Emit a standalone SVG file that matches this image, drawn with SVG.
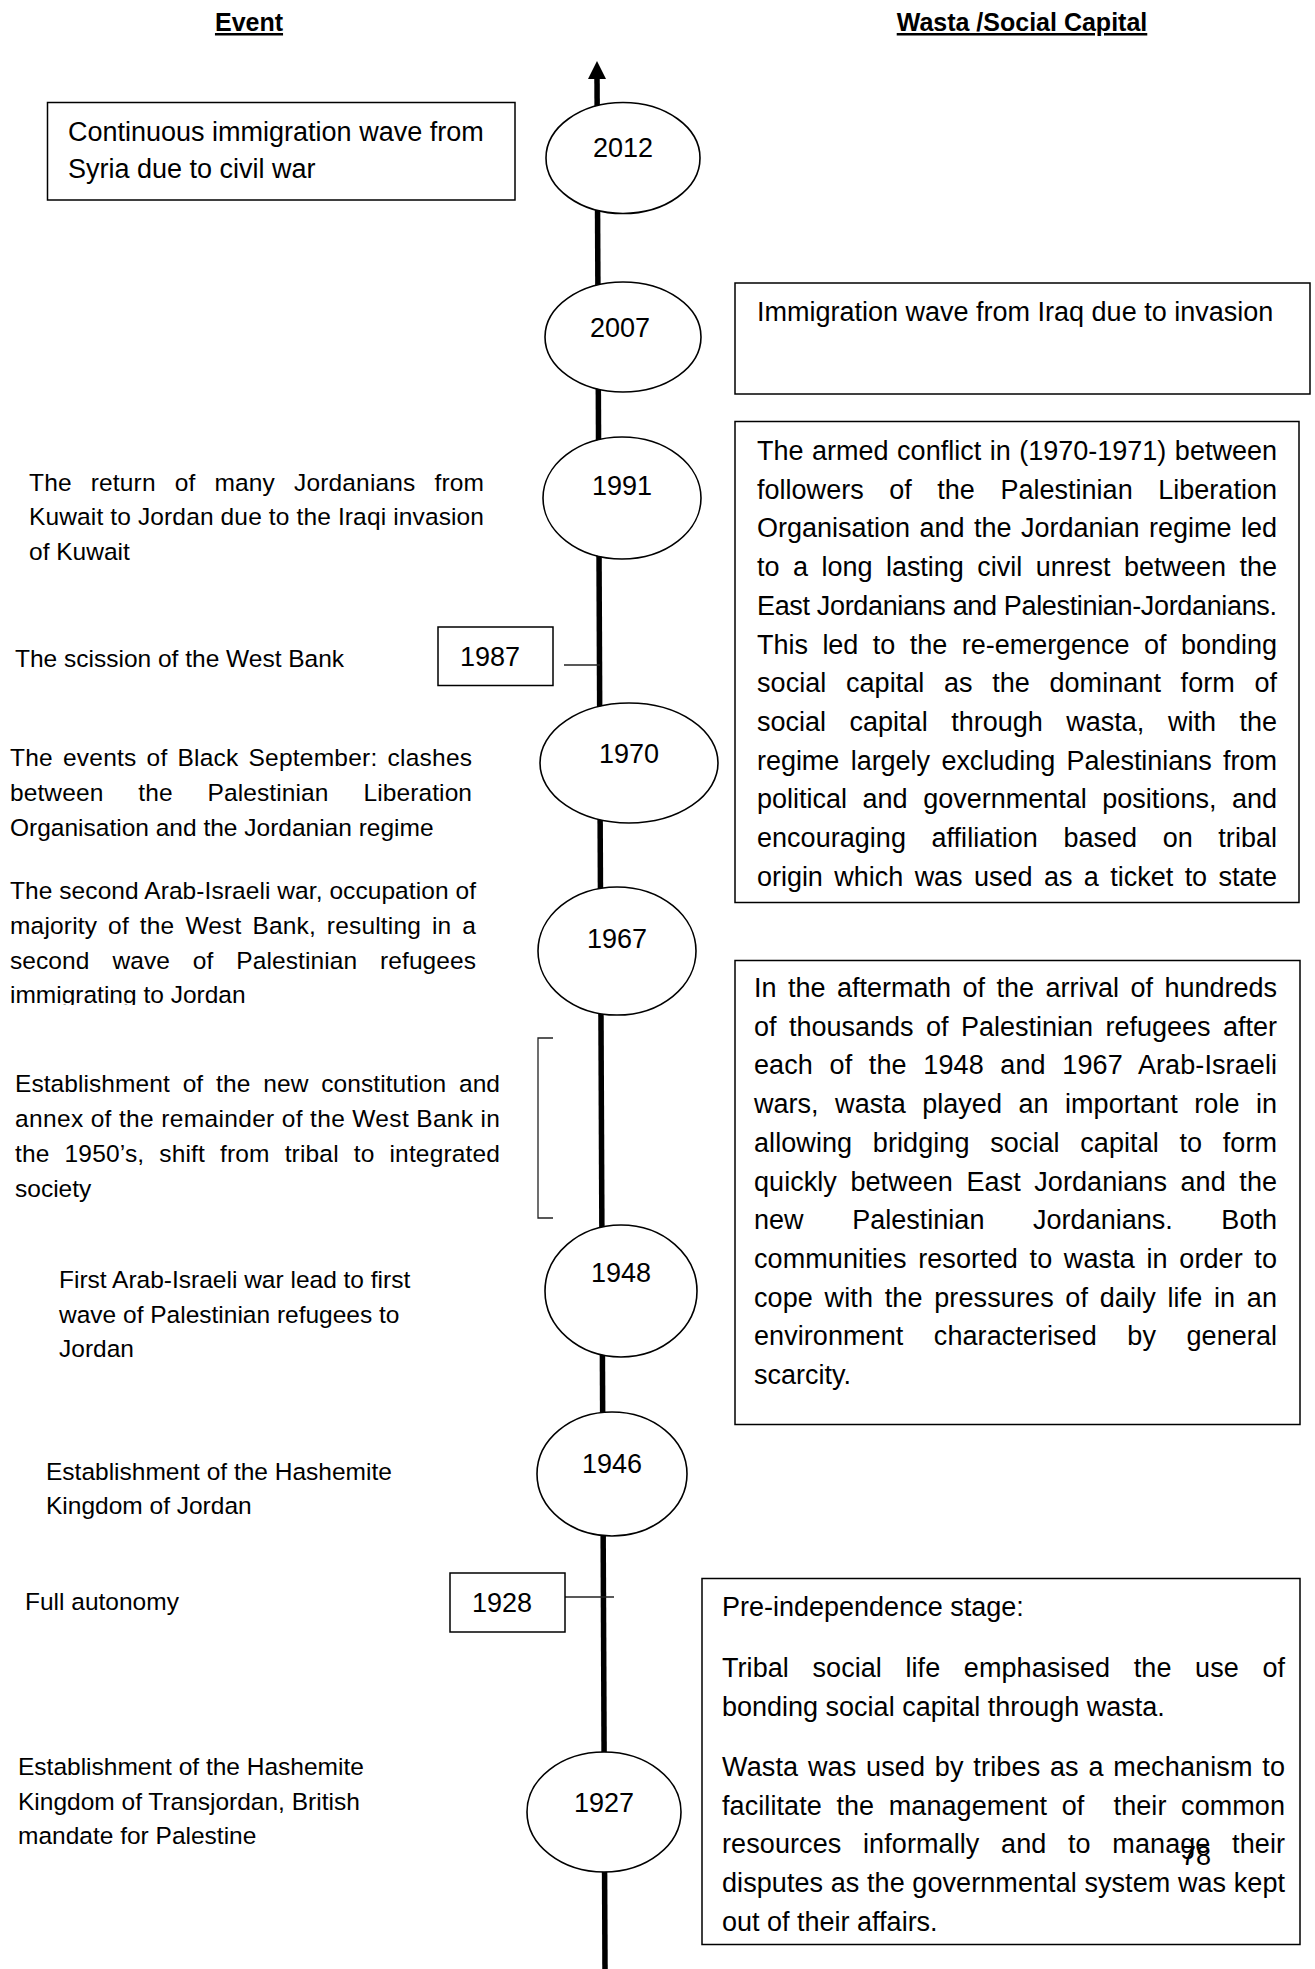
<svg xmlns="http://www.w3.org/2000/svg" width="1315" height="1969" viewBox="0 0 1315 1969">
<style>
text{font-family:"Liberation Sans",Arial,sans-serif;fill:#000}
.t{font-size:27px}
.l{font-size:24.5px}
.c{text-anchor:middle}
.h{font-size:25px;font-weight:bold;text-decoration:underline;text-anchor:middle}
.box{fill:#fff;stroke:#000;stroke-width:1.5}
.ell{fill:#fff;stroke:#000;stroke-width:1.6}
.tl{stroke:#000;stroke-width:5.5;fill:none}
.thin{stroke:#222;stroke-width:1.3;fill:none}
</style>
<defs>
<clipPath id="cut"><rect x="0" y="850" width="560" height="155"/></clipPath>
</defs>
<rect width="1315" height="1969" fill="#fff"/>

<g id="headers">
<text class="h" x="249" y="31">Event</text>
<text class="h" x="1022" y="31">Wasta /Social Capital</text>
</g>

<g id="connectors">
<line class="tl" x1="597" y1="76" x2="605" y2="1969"/>
<polygon points="597,61 606,79 588,79" fill="#000"/>
<line class="thin" x1="564" y1="665" x2="600" y2="665"/>
<line class="thin" x1="565" y1="1597" x2="614" y2="1597"/>
<path class="thin" d="M553,1038 H538 V1218 H553"/>
</g>

<g id="y2012"><ellipse class="ell" cx="623" cy="158" rx="77" ry="55.5"/><text class="t c" x="623" y="157">2012</text></g>
<g id="y2007"><ellipse class="ell" cx="623" cy="337" rx="78" ry="55"/><text class="t c" x="620" y="337">2007</text></g>
<g id="y1991"><ellipse class="ell" cx="622" cy="498" rx="79" ry="61"/><text class="t c" x="622" y="495">1991</text></g>
<g id="y1987"><rect class="box" x="438" y="627" width="115" height="58.5"/><text class="t" x="460" y="666">1987</text></g>
<g id="y1970"><ellipse class="ell" cx="629" cy="763" rx="89" ry="60"/><text class="t c" x="629" y="763">1970</text></g>
<g id="y1967"><ellipse class="ell" cx="617" cy="951" rx="79" ry="64"/><text class="t c" x="617" y="948">1967</text></g>
<g id="y1948"><ellipse class="ell" cx="621" cy="1291" rx="76" ry="66"/><text class="t c" x="621" y="1282">1948</text></g>
<g id="y1946"><ellipse class="ell" cx="612" cy="1474" rx="75" ry="62"/><text class="t c" x="612" y="1473">1946</text></g>
<g id="y1928"><rect class="box" x="450" y="1573" width="115" height="59"/><text class="t" x="472" y="1612">1928</text></g>
<g id="y1927"><ellipse class="ell" cx="604" cy="1812" rx="77" ry="60"/><text class="t c" x="604" y="1812">1927</text></g>

<g id="e2012">
<rect class="box" x="47.5" y="102.5" width="467.5" height="97.5"/>
<text class="t" x="68" y="141">Continuous immigration wave from</text>
<text class="t" x="68" y="178">Syria due to civil war</text>
</g>

<g id="e1991">
<text class="l" x="29" y="491" word-spacing="12" textLength="455" lengthAdjust="spacing">The return of many Jordanians from</text>
<text class="l" x="29" y="525" textLength="455" lengthAdjust="spacing">Kuwait to Jordan due to the Iraqi invasion</text>
<text class="l" x="29" y="560">of Kuwait</text>
</g>

<g id="e1987"><text class="l" x="15" y="667">The scission of the West Bank</text></g>

<g id="e1970">
<text class="l" x="10" y="766" word-spacing="3" textLength="462" lengthAdjust="spacing">The events of Black September: clashes</text>
<text class="l" x="10" y="801" word-spacing="28" textLength="462" lengthAdjust="spacing">between the Palestinian Liberation</text>
<text class="l" x="10" y="836">Organisation and the Jordanian regime</text>
</g>

<g id="e1967" clip-path="url(#cut)">
<text class="l" x="10" y="899" textLength="466" lengthAdjust="spacing">The second Arab-Israeli war, occupation of</text>
<text class="l" x="10" y="934" word-spacing="4" textLength="466" lengthAdjust="spacing">majority of the West Bank, resulting in a</text>
<text class="l" x="10" y="969" word-spacing="16" textLength="466" lengthAdjust="spacing">second wave of Palestinian refugees</text>
<text class="l" x="10" y="1003">immigrating to Jordan</text>
</g>

<g id="e1950s">
<text class="l" x="15" y="1092" word-spacing="6" textLength="485" lengthAdjust="spacing">Establishment of the new constitution and</text>
<text class="l" x="15" y="1127" textLength="485" lengthAdjust="spacing">annex of the remainder of the West Bank in</text>
<text class="l" x="15" y="1162" word-spacing="8" textLength="485" lengthAdjust="spacing">the 1950’s, shift from tribal to integrated</text>
<text class="l" x="15" y="1197">society</text>
</g>

<g id="e1948">
<text class="l" x="59" y="1288">First Arab-Israeli war lead to first</text>
<text class="l" x="59" y="1323">wave of Palestinian refugees to</text>
<text class="l" x="59" y="1357">Jordan</text>
</g>

<g id="e1946">
<text class="l" x="46" y="1480">Establishment of the Hashemite</text>
<text class="l" x="46" y="1514">Kingdom of Jordan</text>
</g>

<g id="e1928"><text class="l" x="25" y="1610">Full autonomy</text></g>

<g id="e1927">
<text class="l" x="18" y="1775">Establishment of the Hashemite</text>
<text class="l" x="18" y="1810">Kingdom of Transjordan, British</text>
<text class="l" x="18" y="1844">mandate for Palestine</text>
</g>

<g id="w2007">
<rect class="box" x="735" y="283" width="575" height="111"/>
<text class="t" x="757" y="321">Immigration wave from Iraq due to invasion</text>
</g>

<g id="wConflict">
<rect class="box" x="735" y="421.5" width="564" height="481"/>
<text class="t" x="757" y="460" word-spacing="1" textLength="520" lengthAdjust="spacing">The armed conflict in (1970-1971) between</text>
<text class="t" x="757" y="498.7" word-spacing="18" textLength="520" lengthAdjust="spacing">followers of the Palestinian Liberation</text>
<text class="t" x="757" y="537.4" word-spacing="2" textLength="520" lengthAdjust="spacing">Organisation and the Jordanian regime led</text>
<text class="t" x="757" y="576.1" word-spacing="6" textLength="520" lengthAdjust="spacing">to a long lasting civil unrest between the</text>
<text class="t" x="757" y="614.8" textLength="520" lengthAdjust="spacing">East Jordanians and Palestinian-Jordanians.</text>
<text class="t" x="757" y="653.5" word-spacing="7" textLength="520" lengthAdjust="spacing">This led to the re-emergence of bonding</text>
<text class="t" x="757" y="692.2" word-spacing="12" textLength="520" lengthAdjust="spacing">social capital as the dominant form of</text>
<text class="t" x="757" y="730.9" word-spacing="16" textLength="520" lengthAdjust="spacing">social capital through wasta, with the</text>
<text class="t" x="757" y="769.6" word-spacing="4" textLength="520" lengthAdjust="spacing">regime largely excluding Palestinians from</text>
<text class="t" x="757" y="808.3" word-spacing="8" textLength="520" lengthAdjust="spacing">political and governmental positions, and</text>
<text class="t" x="757" y="847" word-spacing="18" textLength="520" lengthAdjust="spacing">encouraging affiliation based on tribal</text>
<text class="t" x="757" y="885.7" word-spacing="4" textLength="520" lengthAdjust="spacing">origin which was used as a ticket to state</text>
</g>

<g id="wAftermath">
<rect class="box" x="735" y="960.5" width="565" height="464"/>
<text class="t" x="754" y="997" word-spacing="4" textLength="523" lengthAdjust="spacing">In the aftermath of the arrival of hundreds</text>
<text class="t" x="754" y="1035.7" word-spacing="5" textLength="523" lengthAdjust="spacing">of thousands of Palestinian refugees after</text>
<text class="t" x="754" y="1074.4" word-spacing="9" textLength="523" lengthAdjust="spacing">each of the 1948 and 1967 Arab-Israeli</text>
<text class="t" x="754" y="1113.1" word-spacing="9" textLength="523" lengthAdjust="spacing">wars, wasta played an important role in</text>
<text class="t" x="754" y="1151.8" word-spacing="13" textLength="523" lengthAdjust="spacing">allowing bridging social capital to form</text>
<text class="t" x="754" y="1190.5" word-spacing="6" textLength="523" lengthAdjust="spacing">quickly between East Jordanians and the</text>
<text class="t" x="754" y="1229.2" word-spacing="41" textLength="523" lengthAdjust="spacing">new Palestinian Jordanians. Both</text>
<text class="t" x="754" y="1267.9" word-spacing="4" textLength="523" lengthAdjust="spacing">communities resorted to wasta in order to</text>
<text class="t" x="754" y="1306.6" word-spacing="4" textLength="523" lengthAdjust="spacing">cope with the pressures of daily life in an</text>
<text class="t" x="754" y="1345.3" word-spacing="23" textLength="523" lengthAdjust="spacing">environment characterised by general</text>
<text class="t" x="754" y="1384">scarcity.</text>
</g>

<g id="wPre">
<rect class="box" x="702" y="1578.5" width="598" height="366"/>
<text class="t" x="722" y="1616">Pre-independence stage:</text>
<text class="t" x="722" y="1677" word-spacing="16" textLength="563" lengthAdjust="spacing">Tribal social life emphasised the use of</text>
<text class="t" x="722" y="1716">bonding social capital through wasta.</text>
<text class="t" x="722" y="1776" word-spacing="2" textLength="563" lengthAdjust="spacing">Wasta was used by tribes as a mechanism to</text>
<text class="t" x="722" y="1815" xml:space="preserve" word-spacing="7" textLength="563" lengthAdjust="spacing">facilitate the management of  their common</text>
<text class="t" x="722" y="1853" word-spacing="14" textLength="563" lengthAdjust="spacing">resources informally and to manage their</text>
<text class="t" x="722" y="1892" textLength="563" lengthAdjust="spacing">disputes as the governmental system was kept</text>
<text class="t" x="722" y="1931">out of their affairs.</text>
</g>

<g id="page"><text class="t c" x="1196" y="1865">78</text></g>
</svg>
